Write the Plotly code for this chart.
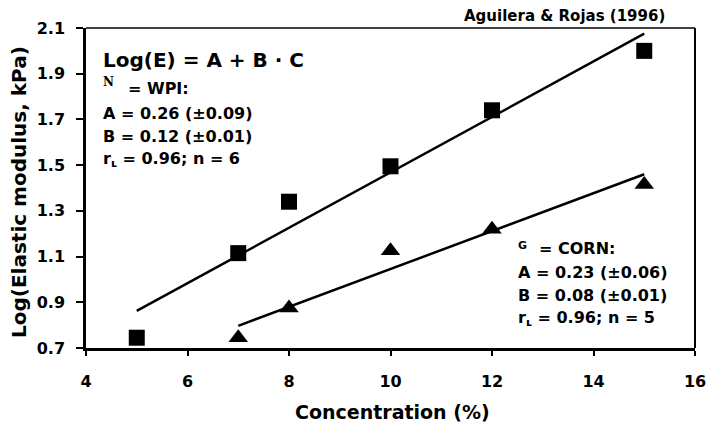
import plotly.graph_objects as go

# Data
wpi_conc = [5, 7, 8, 10, 12, 15]
wpi_logE = [0.745, 1.115, 1.34, 1.495, 1.74, 2.0]
corn_conc = [7, 8, 10, 12, 15]
corn_logE = [0.745, 0.875, 1.125, 1.22, 1.415]

wpi_fit_x = [5, 15]
wpi_fit_y = [0.862, 2.075]
corn_fit_x = [7, 15]
corn_fit_y = [0.797, 1.46]

x_ticks = [4, 6, 8, 10, 12, 14, 16]
y_ticks = [0.7, 0.9, 1.1, 1.3, 1.5, 1.7, 1.9, 2.1]

FONT = "DejaVu Sans, Verdana, sans-serif"
SERIF = "DejaVu Serif, serif"

fig = go.Figure()
fig.add_trace(go.Scatter(x=wpi_fit_x, y=wpi_fit_y, mode="lines",
                         line=dict(color="black", width=2.5), showlegend=False))
fig.add_trace(go.Scatter(x=corn_fit_x, y=corn_fit_y, mode="lines",
                         line=dict(color="black", width=2.5), showlegend=False))
fig.add_trace(go.Scatter(x=wpi_conc, y=wpi_logE, mode="markers",
                         marker=dict(symbol="square", size=16, color="black"),
                         showlegend=False, cliponaxis=False))
fig.add_trace(go.Scatter(x=corn_conc, y=corn_logE, mode="markers",
                         marker=dict(symbol="triangle-up", size=17, color="black"),
                         showlegend=False, cliponaxis=False))

# plot area in page pixels
PL, PR, PT, PB = 86, 695, 28, 348
W, H = 707, 426

def px2x(p):
    return (p - PL) / float(PR - PL)

def px2y(p):
    return (PB - p) / float(PB - PT)

ann = []
def txt(px, py, s, size=16, xanchor="left", font=FONT, angle=0):
    ann.append(dict(x=px2x(px), y=px2y(py), xref="paper", yref="paper", text=s,
                    showarrow=False, xanchor=xanchor, yanchor="middle",
                    textangle=angle,
                    font=dict(family=font, size=size, color="black", weight="bold")))

txt(101, 60, "Log(E) = A + B · C", size=20)
txt(101, 82, "N", size=12, font=SERIF)
txt(126, 88, "= WPI:", size=16)
txt(101, 113, "A = 0.26 (±0.09)", size=16)
txt(101, 136, "B = 0.12 (±0.01)", size=16)
txt(101, 159, "r<sub>ʟ</sub> = 0.96; n = 6", size=16)

txt(516, 245, "G", size=11)
txt(537, 248, "= CORN:", size=16)
txt(516, 272, "A = 0.23 (±0.06)", size=16)
txt(516, 295, "B = 0.08 (±0.01)", size=16)
txt(516, 318, "r<sub>ʟ</sub> = 0.96; n = 5", size=16)

txt(667, 16, "Aguilera & Rojas (1996)", size=15, xanchor="right")

# axis titles
txt(392, 412, "Concentration (%)", size=19, xanchor="center")
txt(19, 192, "Log(Elastic modulus, kPa)", size=20, xanchor="center", angle=-90)

fig.update_layout(
    width=W, height=H, autosize=False,
    margin=dict(l=PL, r=W - PR, t=PT, b=H - PB, autoexpand=False),
    paper_bgcolor="white", plot_bgcolor="white",
    font=dict(family=FONT, color="black"),
    annotations=ann,
    shapes=[
        dict(type="line", xref="paper", yref="paper", x0=0, x1=1, y0=1, y1=1,
             line=dict(color="black", width=1.5)),
        dict(type="line", xref="paper", yref="paper", x0=1, x1=1, y0=0, y1=1,
             line=dict(color="black", width=2)),
    ],
)
fig.update_xaxes(
    range=[4, 16], tickvals=x_ticks, ticktext=[str(v) for v in x_ticks],
    showgrid=False, zeroline=False, showline=True, linecolor="black", linewidth=2.5,
    ticks="outside", ticklen=5, tickwidth=2, tickcolor="black", ticklabelstandoff=12,
    ticklabeloverflow="allow", automargin=False,
    tickfont=dict(family=FONT, size=16, color="black", weight="bold"),
)
fig.update_yaxes(
    range=[0.7, 2.1], tickvals=y_ticks, ticktext=[f"{v:.1f}" for v in y_ticks],
    showgrid=False, zeroline=False, showline=True, linecolor="black", linewidth=2.5,
    ticks="outside", ticklen=7, tickwidth=2, tickcolor="black", ticklabelstandoff=8,
    ticklabeloverflow="allow", automargin=False,
    tickfont=dict(family=FONT, size=16, color="black", weight="bold"),
)

# remove the default page margin so the figure starts at the window corner
fig.write_html("out.html",
               config={"displayModeBar": False},
               post_script="document.body.style.margin='0';document.body.style.overflow='hidden';")
